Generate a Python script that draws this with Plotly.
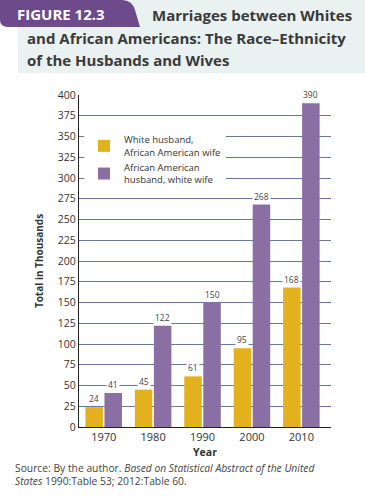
import plotly.graph_objects as go

years = ["1970", "1980", "1990", "2000", "2010"]
white_husband = [24, 45, 61, 95, 168]
african_husband = [41, 122, 150, 268, 390]
series_names = ["White husband,<br>African American wife", "African American<br>husband, white wife"]
y_ticks = list(range(0, 401, 25))

W, H = 365, 499
L, R, T, B = 79, 34, 95, 72
pw, ph = W - L - R, H - T - B

def px(x):
    return (x - L) / pw

def py(y):
    return (H - B - y) / ph

YELLOW = "#E4B11E"
PURPLE = "#8A6FA5"
GRID = "#66799A"
TXT = "#333333"
FONT = "Open Sans"

fig = go.Figure()
fig.add_trace(go.Bar(x=years, y=white_husband, name=series_names[0], marker=dict(color=YELLOW, line=dict(width=0))))
fig.add_trace(go.Bar(x=years, y=african_husband, name=series_names[1], marker=dict(color=PURPLE, line=dict(width=0))))

ann = []
for i, yr in enumerate(years):
    for vals, shift in ((white_husband, -9.5), (african_husband, 9.5)):
        # category axis: position by category index
        ann.append(dict(x=i, y=vals[i], xref="x", yref="y", text=str(vals[i]), showarrow=False,
                        xshift=shift, yanchor="bottom", yshift=1, bgcolor="white", borderpad=1,
                        font=dict(size=8.5, color="#444", family=FONT)))

# title texts
ann.append(dict(x=px(15), y=py(14), xref="paper", yref="paper", text="<b>FIGURE 12.3</b>", showarrow=False,
                xanchor="left", yanchor="middle", font=dict(size=15, color="white", family=FONT)))
ann.append(dict(x=px(150), y=py(15), xref="paper", yref="paper", text="<b>Marriages between Whites</b>", showarrow=False,
                xanchor="left", yanchor="middle", font=dict(size=15, color="#3a3a3a", family=FONT)))
ann.append(dict(x=px(25), y=py(38), xref="paper", yref="paper", text="<b>and African Americans: The Race–Ethnicity</b>", showarrow=False,
                xanchor="left", yanchor="middle", font=dict(size=15, color="#3a3a3a", family=FONT)))
ann.append(dict(x=px(25), y=py(60), xref="paper", yref="paper", text="<b>of the Husbands and Wives</b>", showarrow=False,
                xanchor="left", yanchor="middle", font=dict(size=15, color="#3a3a3a", family=FONT)))
# source
ann.append(dict(x=px(13), y=py(459), xref="paper", yref="paper", align="left",
                text="Source: By the author. <i>Based on Statistical Abstract of the United</i><br><i>States</i> 1990:Table 53; 2012:Table 60.",
                showarrow=False, xanchor="left", yanchor="top", font=dict(size=10.3, color="#444", family=FONT)))

shapes = [
    dict(type="rect", xref="paper", yref="paper", x0=px(18), x1=px(365), y0=py(0), y1=py(73),
         fillcolor="#EAF1F1", line=dict(width=0), layer="below"),
    dict(type="path", xref="paper", yref="paper",
         path=f"M {px(0)},{py(0)} L {px(122)},{py(0)} Q {px(132)},{py(0)} {px(135)},{py(10)} L {px(140)},{py(27)} L {px(8)},{py(27)} Q {px(0)},{py(27)} {px(0)},{py(20)} Z",
         fillcolor="#6C4A8C", line=dict(width=0), layer="below"),
]

fig.update_layout(
    width=W, height=H,
    margin=dict(l=L, r=R, t=T, b=B, autoexpand=False),
    paper_bgcolor="white", plot_bgcolor="white",
    barmode="group", bargap=0.23, bargroupgap=0.08,
    font=dict(family=FONT, color=TXT),
    showlegend=True,
    legend=dict(x=px(84), y=py(127), xanchor="left", yanchor="top", bgcolor="white",
                font=dict(size=9.5, color=TXT, family=FONT), tracegroupgap=4, itemwidth=30),
    xaxis=dict(type="category", range=[-0.5, len(years) - 0.4], autorange=False, automargin=False,
               showline=True, linecolor="#222", linewidth=1.2, ticks="",
               tickfont=dict(size=11, color=TXT),
               title=dict(text="<b>Year</b>", font=dict(size=10.5, color=TXT), standoff=5)),
    yaxis=dict(range=[0, 400], autorange=False, tickvals=y_ticks, automargin=False, showline=True, linecolor="#222", linewidth=1.2,
               showgrid=True, gridcolor=GRID, gridwidth=1, ticks="", zeroline=False,
               tickfont=dict(size=10.5, color=TXT),
               title=dict(text="<b>Total in Thousands</b>", font=dict(size=10, color=TXT), standoff=12)),
    annotations=ann, shapes=shapes,
)

fig.write_html("out.html", config={"displayModeBar": False},
               post_script="document.body.style.margin='0';")
